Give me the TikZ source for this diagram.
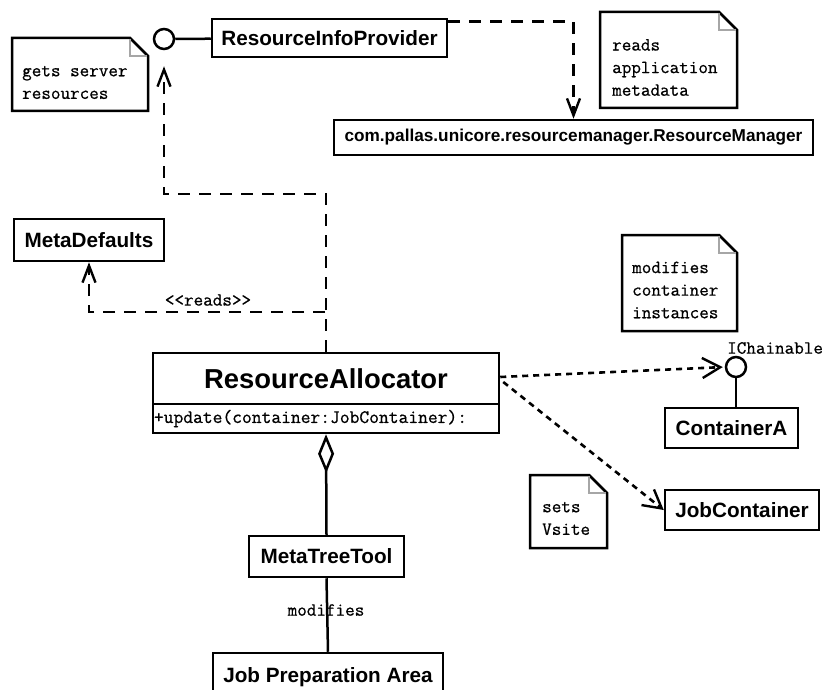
\documentclass[tikz,border=0pt]{standalone}
\usepackage{fontspec}
\newfontfamily\boxfamily{Liberation Sans}
\newfontfamily\monofamily{Latin Modern Mono}[FakeBold=0.7]
\usetikzlibrary{arrows.meta,shapes.geometric}

\newcommand\boxfont{\boxfamily\bfseries\fontsize{20.7}{24}\selectfont}
\newcommand\monofont{\monofamily\fontsize{18.6}{22.6}\selectfont}

% UML note outline: corners (x1,y1) and (x2,y2), folded top-right corner
\newcommand\umlnote[4]{%
  \draw[noteline] (#1,#2) -- (#3-18,#2) -- (#3,#2+18) -- (#3,#4) -- (#1,#4) -- cycle;
  \draw[foldline] (#3-18,#2+1) -- (#3-18,#2+18) -- (#3-1,#2+18);}

\begin{document}
\begin{tikzpicture}[x=1pt,y=-1pt,
  umlbox/.style={draw, line width=2.5pt, inner sep=0pt, font=\boxfont},
  lolli/.style={circle, draw, line width=2.5pt, minimum size=20pt, inner sep=0pt},
  noteline/.style={line width=2.5pt, line join=miter},
  foldline/.style={line width=1.4pt, gray!70},
  notetext/.style={font=\monofont, align=left, inner sep=0pt, anchor=west},
  lbl/.style={font=\monofont, inner sep=0pt},
  link/.style={line width=2.5pt},
  dep/.style={line width=2.5pt, dash pattern=on 12pt off 9pt,
    -{Straight Barb[length=17pt, width=13pt, line width=2.4pt]}},
  use/.style={line width=2.6pt, dash pattern=on 6pt off 5pt,
    -{Straight Barb[length=18pt, width=20pt, line width=2.4pt]}},
]
\useasboundingbox (0,0) rectangle (827,690);
\fill[white] (0,0) rectangle (827,690);
\clip (0,0) rectangle (827,690);

% classes
\node[umlbox, minimum width=235pt, minimum height=38pt] (rip) at (329.5,38) {ResourceInfoProvider};
\node[umlbox, minimum width=479pt, minimum height=35pt,
  font=\boxfamily\bfseries\fontsize{17.2}{20}\selectfont] (rm) at (573.5,137.5)
  {com.pallas.unicore.resourcemanager.ResourceManager};
\node[umlbox, minimum width=150pt, minimum height=42pt] (md) at (89,240) {MetaDefaults};
\node[umlbox, minimum width=346pt, minimum height=51pt,
  font=\boxfamily\bfseries\fontsize{27.4}{30}\selectfont] (ra) at (326,378.5) {ResourceAllocator};
\node[umlbox, minimum width=346pt, minimum height=29pt] (ram) at (326,418.5) {};
\node[lbl, anchor=west, font=\monofamily\fontsize{19}{22}\selectfont] (op) at ([xshift=2pt]ram.west)
  {+update(container:JobContainer):};
\node[umlbox, minimum width=133pt, minimum height=40pt] (ca) at (731.5,428) {ContainerA};
\node[umlbox, minimum width=154pt, minimum height=40pt] (jc) at (742,510) {JobContainer};
\node[umlbox, minimum width=155pt, minimum height=41pt] (mtt) at (326.5,556.5) {MetaTreeTool};
\node[umlbox, minimum width=230pt, minimum height=50pt] (jpa) at (328,678) {};
\node[font=\boxfont, inner sep=0pt] (jpat) at (328,677) {Job Preparation Area};

% provided interfaces
\node[lolli] (c1) at (164,39) {};
\node[lolli] (c2) at (736,367) {};
\node[lbl, anchor=west] (ich) at (727,348) {IChainable};

% notes
\umlnote{12}{38}{148}{111}
\node[notetext] (n1) at (22,82.5) {gets server\\resources};
\umlnote{600}{12}{737}{108}
\node[notetext] (n2) at (612,67.5) {reads\\application\\metadata};
\umlnote{622}{235}{737}{331}
\node[notetext] (n3) at (632,290) {modifies\\container\\instances};
\umlnote{530}{475}{607}{548}
\node[notetext] (n4) at (542,518.5) {sets\\Vsite};

% connectors
\draw[link] (c1) -- (rip);
\coordinate (k1) at (164,194);
\coordinate (k2) at (325,312);
\draw[dep, shorten >=16pt] (ra.north) |- (k1) -- (c1.south);
\draw[dep] (k2) -| (md.south);
\node[lbl] (rd) at (208,300) {\textless\textless reads\textgreater\textgreater};
\draw[dep] ([yshift=-4pt]rip.north east) -| (rm.north);
\draw[use, shorten >=2pt] ([yshift=1.5pt]ra.east) -- (c2.west);
\draw[use] ([xshift=3pt,yshift=-3.5pt]ra.east) -- (jc.west);
\draw[link] (c2.south) -- (c2.south |- ca.north);
\draw[link, {Diamond[open, length=39pt, width=16pt, line width=2.5pt]}-] (ram.south) -- (mtt.north);
\draw[link] (mtt.south) -- (jpa.north);
\node[lbl] (mod) at (326,610) {modifies};
\end{tikzpicture}
\end{document}
